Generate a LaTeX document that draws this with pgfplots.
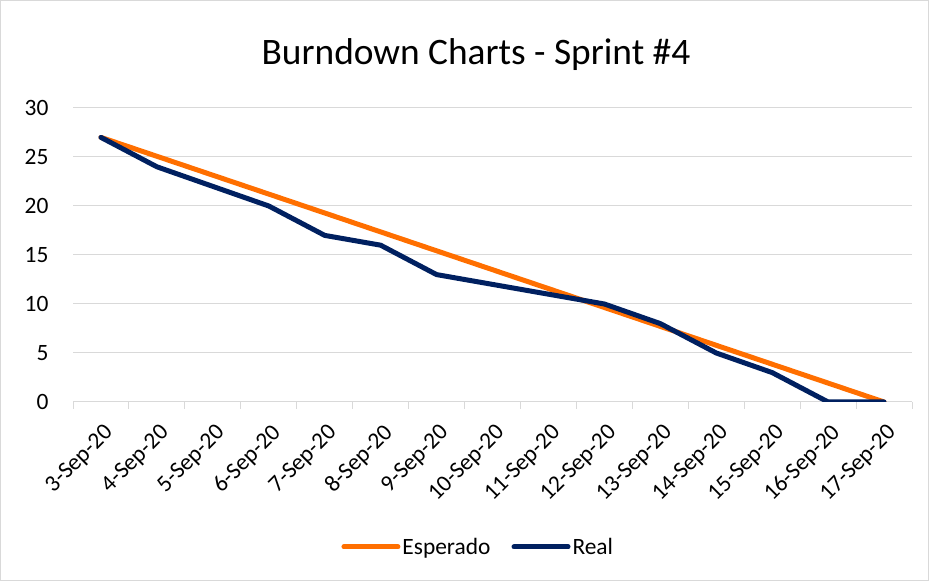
\documentclass[border=0pt]{standalone}
\usepackage{pgfplots}
\pgfplotsset{compat=1.18}
\usepackage{fontspec}
\setmainfont{Carlito}
\definecolor{esp}{HTML}{FF6F00}
\definecolor{real}{HTML}{002060}
\definecolor{gridc}{HTML}{D9D9D9}
\begin{document}
\begin{tikzpicture}[x=1bp,y=1bp]
\draw[color=gridc, line width=1bp] (0.5,0.5) rectangle (928.5,580.5);
\node[font=\fontsize{37.5}{42}\selectfont] at (476,526) {Burndown Charts - Sprint \#4};
\begin{axis}[
  at={(73bp,179bp)}, anchor=south west,
  scale only axis, width=839bp, height=294bp,
  xmin=-0.5, xmax=14.5, ymin=0, ymax=30,
  ytick={0,5,...,30},
  xtick={0,...,14},
  xticklabels={3-Sep-20,4-Sep-20,5-Sep-20,6-Sep-20,7-Sep-20,8-Sep-20,9-Sep-20,10-Sep-20,11-Sep-20,12-Sep-20,13-Sep-20,14-Sep-20,15-Sep-20,16-Sep-20,17-Sep-20},
  axis x line=bottom, axis y line=left,
  x axis line style={draw=gridc, line width=1bp, -},
  y axis line style={draw=none},
  major tick length=0pt,
  ymajorgrids, grid style={gridc, line width=1bp},
  extra x ticks={-0.5,0.5,...,14.5},
  extra x tick labels={},
  extra x tick style={major tick length=7bp, tick align=outside, tick style={draw=gridc, line width=1bp}, grid=none},
  /pgf/number format/assume math mode=true,
  ticklabel style={font=\fontsize{23.5}{27}\selectfont, text=black},
  yticklabel style={xshift=-21bp},
  xticklabel style={anchor=east, xshift=11bp, yshift=-25bp, rotate=45},
  legend columns=2,
  legend style={draw=none, at={(0.483,-0.493)}, anchor=center, font=\fontsize{23.5}{27}\selectfont,
    /tikz/every even column/.append style={column sep=19bp}},
  legend image code/.code={\draw[#1, line cap=round] (0bp,0bp) -- (54bp,0bp);},
  every axis plot/.append style={line width=5bp, line join=round, line cap=round},
]
\addplot[esp, no markers] coordinates {(0,27) (1,25.0714) (2,23.1429) (3,21.2143) (4,19.2857) (5,17.3571) (6,15.4286) (7,13.5) (8,11.5714) (9,9.6429) (10,7.7143) (11,5.7857) (12,3.8571) (13,1.9286) (14,0)};
\addlegendentry{Esperado}
\addplot[real, no markers] coordinates {(0,27) (1,24) (2,22) (3,20) (4,17) (5,16) (6,13) (7,12) (8,11) (9,10) (10,8) (11,5) (12,3) (13,0) (14,0)};
\addlegendentry{Real}
\end{axis}
\end{tikzpicture}
\end{document}
